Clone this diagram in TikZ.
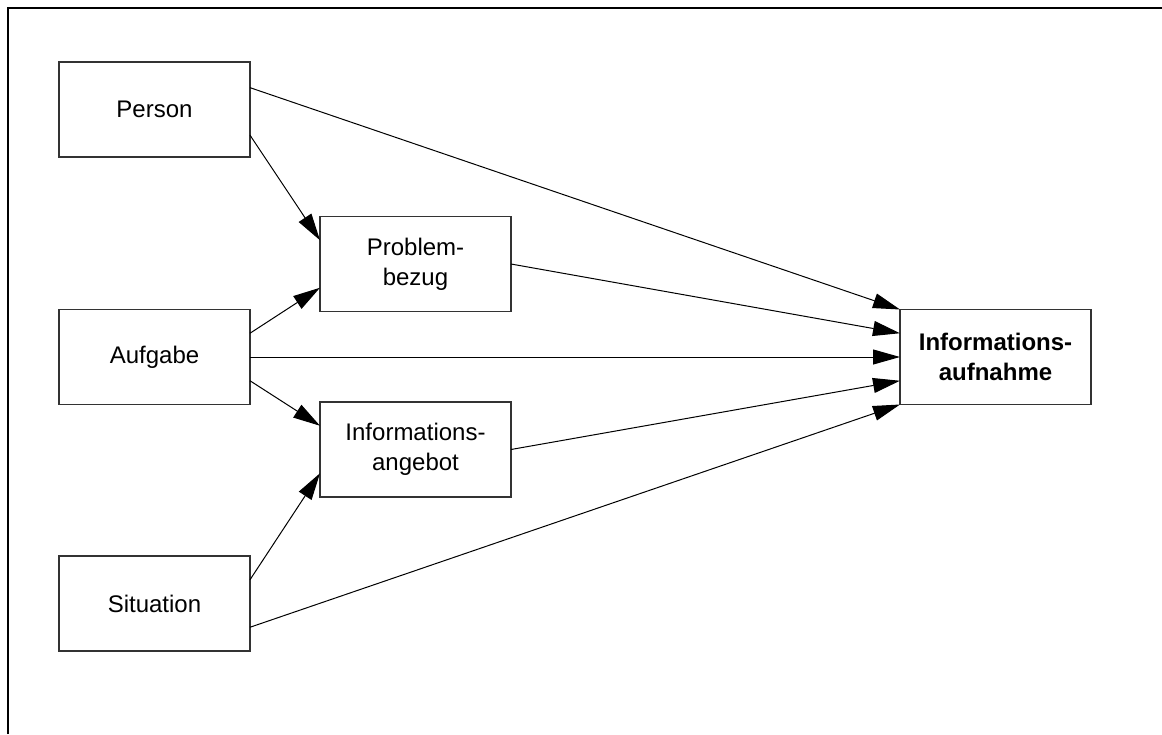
\documentclass[tikz,border=0pt]{standalone}
\usepackage{fontspec}
\setmainfont{Liberation Sans}
\usetikzlibrary{arrows.meta,calc}
\begin{document}
\begin{tikzpicture}[x=1pt,y=-1pt,
  box/.style={draw=black!80,line width=1.1pt,rectangle,inner sep=0pt,outer sep=0pt,
    minimum width=191pt,minimum height=95pt,align=center,
    font=\fontsize{24}{30}\selectfont},
  link/.style={line width=1pt,-{Triangle[length=27pt,width=15pt]}}]
\useasboundingbox (0,0) rectangle (1162,734);
% page frame, open at the bottom and right
\draw[line width=2pt] (8.3,734) -- (8.3,8.3) -- (1162,8.3);

% influencing factors
\node[box] (person)    at (154.5,109.5) {Person};
\node[box] (aufgabe)   at (154.5,357)   {Aufgabe};
\node[box] (situation) at (154.5,603.5) {Situation};
% mediating variables
\node[box] (problem)   at (415.5,264)   {Problem-\\bezug};
\node[box] (angebot)   at (415.5,449.5) {Informations-\\angebot};
% outcome
\node[box,font=\fontsize{24}{30}\selectfont\bfseries] (aufnahme) at (995.5,357) {Informations-\\aufnahme};

% connectors
\draw[link] ($(person.north east)!0.27!(person.south east)$) -- (aufnahme.north west);
\draw[link] ($(person.north east)!0.77!(person.south east)$) -- ($(problem.north west)!0.25!(problem.south west)$);
\draw[link] ($(aufgabe.north east)!0.25!(aufgabe.south east)$) -- ($(problem.north west)!0.75!(problem.south west)$);
\draw[link] (aufgabe.east) -- (aufnahme.west);
\draw[link] ($(aufgabe.north east)!0.75!(aufgabe.south east)$) -- ($(angebot.north west)!0.25!(angebot.south west)$);
\draw[link] ($(situation.north east)!0.25!(situation.south east)$) -- ($(angebot.north west)!0.75!(angebot.south west)$);
\draw[link] ($(situation.north east)!0.75!(situation.south east)$) -- (aufnahme.south west);
\draw[link] (problem.east) -- ($(aufnahme.north west)!0.25!(aufnahme.south west)$);
\draw[link] (angebot.east) -- ($(aufnahme.north west)!0.75!(aufnahme.south west)$);
\end{tikzpicture}
\end{document}
